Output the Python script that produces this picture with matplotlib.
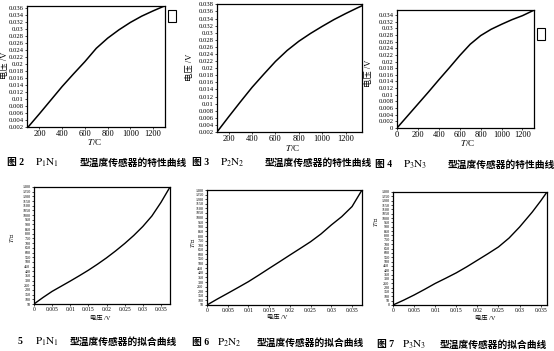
import numpy as np
import matplotlib
matplotlib.use("Agg")
import matplotlib.pyplot as plt
from matplotlib.ticker import FormatStrFormatter, FixedLocator
from matplotlib.patches import Rectangle

plt.rcParams['font.family'] = ['Liberation Serif', 'Noto Sans CJK SC']
plt.rcParams['mathtext.fontset'] = 'stix'

W, H = 554, 351

# --- data ---
# fig 2: P1N1 characteristic (T / C -> voltage / V)
t1 = [100, 200, 300, 400, 500, 600, 700, 800, 900, 1000, 1100, 1200, 1300]
v1 = [0.002, 0.0058, 0.0097, 0.0136, 0.0172, 0.0207, 0.0245, 0.0274, 0.0298,
      0.0319, 0.0337, 0.0352, 0.0366]
# fig 3: P2N2
t2 = [100, 200, 300, 400, 500, 600, 700, 800, 900, 1000, 1100, 1200, 1300, 1340]
v2 = [0.002, 0.0063, 0.0105, 0.0146, 0.0183, 0.0219, 0.0250, 0.0276, 0.0298,
      0.0318, 0.0337, 0.0354, 0.0370, 0.0376]
# fig 4: P3N3
t3 = [0, 100, 200, 300, 400, 500, 600, 700, 800, 900, 1000, 1100, 1200, 1300]
v3 = [0.0, 0.0036, 0.0072, 0.0108, 0.0145, 0.0181, 0.0218, 0.0252, 0.0278,
      0.0297, 0.0312, 0.0326, 0.0338, 0.0353]
# fig 5-7: fitted curves (voltage / V -> T / C)
u5 = [0, 0.0025, 0.005, 0.0075, 0.01, 0.0125, 0.015, 0.0175, 0.02, 0.0225,
      0.025, 0.0275, 0.03, 0.0325, 0.035, 0.0375]
T5 = [50, 120, 185, 240, 295, 352, 411, 475, 543, 617, 696, 782, 878, 990,
      1135, 1300]
u6 = [0, 0.0025, 0.005, 0.0075, 0.01, 0.0125, 0.015, 0.0175, 0.02, 0.0225,
      0.025, 0.0275, 0.03, 0.0325, 0.035, 0.0374]
T6 = [50, 115, 177, 240, 304, 375, 448, 520, 593, 665, 738, 822, 920, 1010,
      1120, 1300]
u7 = [0, 0.0025, 0.005, 0.0075, 0.01, 0.0125, 0.015, 0.0175, 0.02, 0.0225,
      0.025, 0.0275, 0.03, 0.033, 0.035, 0.0365]
T7 = [0, 55, 115, 180, 248, 308, 370, 440, 515, 590, 668, 770, 897, 1069,
      1197, 1300]

top_yticks = [np.arange(0.002, 0.0361, 0.002), np.arange(0.002, 0.0381, 0.002),
              np.arange(0.0, 0.0341, 0.002)]
top_xticks = [[200, 400, 600, 800, 1000, 1200], [200, 400, 600, 800, 1000, 1200],
              [0, 200, 400, 600, 800, 1000, 1200]]
bot_xticks = [0, 0.005, 0.01, 0.015, 0.02, 0.025, 0.03, 0.035]
bot_yticks = [np.arange(50, 1301, 50), np.arange(50, 1301, 50), np.arange(0, 1301, 50)]

fig = plt.figure(figsize=(W / 100, H / 100), dpi=100)


def px_axes(l, t, r, b):
    return fig.add_axes([l / W, 1 - b / H, (r - l) / W, (b - t) / H])


def px_text(x, y, s, **kw):
    fig.text(x / W, 1 - y / H, s, **kw)


def style(ax):
    for sp in ax.spines.values():
        sp.set_linewidth(0.9)
    ax.tick_params(direction='out', length=1.5, width=0.5, pad=1)


# top row
top_boxes = [(27, 6, 165, 127), (217, 4, 362, 132), (397, 10, 534, 128)]
top_x = [t1, t2, t3]
top_y = [v1, v2, v3]
top_xlim = [(90, 1305), (100, 1340), (0, 1310)]
top_ylim = [(0.002, 0.0366), (0.002, 0.0381), (0.0, 0.0355)]
for i in range(3):
    ax = px_axes(*top_boxes[i])
    ax.plot(top_x[i], top_y[i], color='black', lw=1.1)
    ax.set_xlim(*top_xlim[i])
    ax.set_ylim(*top_ylim[i])
    ax.yaxis.set_major_locator(FixedLocator(top_yticks[i]))
    ax.yaxis.set_major_formatter(FormatStrFormatter('%g'))
    ax.xaxis.set_major_locator(FixedLocator(top_xticks[i]))
    ax.tick_params(axis='y', labelsize=4.8)
    ax.tick_params(axis='x', labelsize=6)
    style(ax)

# axis labels top row
px_text(5, 65, '电压 /V', rotation=90, ha='center', va='center', fontsize=6)
px_text(190, 67, '电压 /V', rotation=90, ha='center', va='center', fontsize=6)
px_text(369, 73, '电压 /V', rotation=90, ha='center', va='center', fontsize=6)
for x, y in [(95, 142), (293, 148), (468, 143)]:
    px_text(x, y, '$T$/C', ha='center', va='center', fontsize=6.5)

# bottom row
bot_boxes = [(34, 187, 170, 304), (207, 190, 362, 305), (393, 192, 547, 305)]
bot_x = [u5, u6, u7]
bot_y = [T5, T6, T7]
bot_xlim = [(0, 0.0375), (0, 0.0374), (0, 0.0365)]
bot_ylim = [(50, 1300), (50, 1300), (0, 1300)]
for i in range(3):
    ax = px_axes(*bot_boxes[i])
    ax.plot(bot_x[i], bot_y[i], color='black', lw=1.0)
    ax.set_xlim(*bot_xlim[i])
    ax.set_ylim(*bot_ylim[i])
    ax.xaxis.set_major_locator(FixedLocator(bot_xticks))
    ax.xaxis.set_major_formatter(FormatStrFormatter('%g'))
    ax.yaxis.set_major_locator(FixedLocator(bot_yticks[i]))
    ax.tick_params(axis='y', labelsize=3)
    ax.tick_params(axis='x', labelsize=4)
    style(ax)

for x, y in [(12, 238), (193, 243), (376, 222)]:
    px_text(x, y, '$T$/℃', rotation=90, ha='center', va='center', fontsize=4.5)
for x, y in [(100, 318), (277, 317), (485, 318)]:
    px_text(x, y, '电压 /V', ha='center', va='center', fontsize=4.5)

# captions
cap = dict(fontsize=7, va='center', ha='left', fontweight='bold')
caps = [
    (7, 35, 80, 163, '图 2', r'$\mathrm{P_1N_1}$', '型温度传感器的特性曲线'),
    (192, 220, 265, 163, '图 3', r'$\mathrm{P_2N_2}$', '型温度传感器的特性曲线'),
    (375, 403, 448, 165, '图 4', r'$\mathrm{P_3N_3}$', '型温度传感器的特性曲线'),
    (18, 35, 70, 342, '5', r'$\mathrm{P_1N_1}$', '型温度传感器的拟合曲线'),
    (192, 217, 257, 343, '图 6', r'$\mathrm{P_2N_2}$', '型温度传感器的拟合曲线'),
    (377, 402, 440, 345, '图 7', r'$\mathrm{P_3N_3}$', '型温度传感器的拟合曲线'),
]
for xa, xb, xc, y, a, b, c in caps:
    px_text(xa, y, a, **cap)
    px_text(xb, y, b, fontsize=8, va='center', ha='left')
    px_text(xc, y, c, **cap)

# small scan marks at the right of fig 2 and fig 4
for x0, y0 in [(168, 10), (537, 28)]:
    fig.add_artist(Rectangle((x0 / W, 1 - (y0 + 12) / H), 8 / W, 12 / H,
                             transform=fig.transFigure, fill=False, lw=0.8,
                             edgecolor='black'))

fig.savefig('out.png', dpi=100)
